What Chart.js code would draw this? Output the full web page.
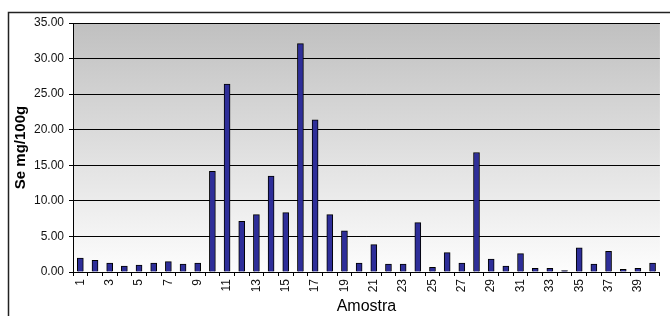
<!DOCTYPE html>
<html>
<head>
<meta charset="utf-8">
<script src="https://cdn.jsdelivr.net/npm/chart.js@4/dist/chart.umd.min.js"></script>
<style>
  body { margin: 0; background: #fff; }
  #wrap { width: 670px; height: 316px; position: relative; }
</style>
</head>
<body>
<div id="wrap"><canvas id="chartSe"></canvas></div>
<script>
const amostras = Array.from({ length: 40 }, (_, i) => String(i + 1));
const seValues = [1.97, 1.64, 1.27, 0.84, 0.98, 1.27, 1.45, 1.12, 1.27, 14.16,
                  26.4, 7.13, 8.06, 13.5, 8.35, 32.1, 21.4, 8.06, 5.8, 1.27,
                  3.84, 1.12, 1.12, 6.94, 0.66, 2.72, 1.27, 16.8, 1.83, 0.84,
                  2.58, 0.52, 0.52, 0.19, 3.38, 1.12, 2.91, 0.37, 0.52, 1.27];
const yTicks = [0, 5, 10, 15, 20, 25, 30, 35];

// fondo degradado del area + marco exterior
const bgPlugin = {
    id: 'bgPlugin',
    beforeDraw(chart) {
        const { ctx, chartArea: a } = chart;
        const g = ctx.createLinearGradient(0, a.top, 0, a.bottom);
        g.addColorStop(0, '#c0c0c0');
        g.addColorStop(1, '#fdfdfd');
        ctx.save();
        ctx.fillStyle = g;
        ctx.fillRect(a.left, a.top, a.right - a.left, a.bottom - a.top);
        ctx.strokeStyle = '#222';
        ctx.lineWidth = 1.5;
        ctx.strokeRect(8.5, 12.5, 700, 400);
        ctx.restore();
    },
    afterDatasetsDraw(chart) {
        const { ctx, chartArea: a } = chart;
        ctx.save();
        ctx.strokeStyle = '#000';
        ctx.lineWidth = 1;
        ctx.beginPath();
        ctx.moveTo(a.left, a.top + 0.5);
        ctx.lineTo(a.right, a.top + 0.5);
        ctx.stroke();
        ctx.restore();
    }
};

new Chart(document.getElementById('chartSe'), {
    type: 'bar',
    data: {
        labels: amostras,
        datasets: [{
            label: 'Se mg/100g',
            data: seValues,
            backgroundColor: '#2e2e99',
            borderColor: '#000',
            borderWidth: 1,
            barThickness: 6
        }]
    },
    options: {
        responsive: true, maintainAspectRatio: false, animation: false,
        layout: { padding: { top: 23, right: 2, bottom: 0, left: 0 } },
        plugins: { legend: { display: false }, tooltip: { enabled: false } },
        scales: {
            x: {
                offset: true,
                afterFit: s => { s.height = 44; },
                grid: { offset: true, drawOnChartArea: false, drawTicks: true, tickLength: 4, color: '#000' },
                border: { color: '#000' },
                ticks: {
                    autoSkip: false, minRotation: 90, maxRotation: 90, padding: 3,
                    color: '#111', font: { family: 'Liberation Sans', size: 12 },
                    callback: (v, i) => i % 2 === 0 ? amostras[i] : ''
                },
                title: {
                    display: true, text: 'Amostra', color: '#000',
                    font: { family: 'Liberation Sans', size: 16 }, padding: { top: 0, bottom: 0 }
                }
            },
            y: {
                min: 0, max: 35,
                afterFit: s => { s.width = 73; },
                afterBuildTicks: s => { s.ticks = yTicks.map(v => ({ value: v })); },
                grid: { color: '#000', tickLength: 4, drawTicks: true },
                border: { color: '#000' },
                ticks: {
                    padding: 5, color: '#111',
                    font: { family: 'Liberation Sans', size: 12 },
                    callback: v => v.toFixed(2)
                },
                title: {
                    display: true, text: 'Se mg/100g', color: '#000',
                    font: { family: 'Liberation Sans', size: 15, weight: 'bold' },
                    padding: { top: 12, bottom: 0 }
                }
            }
        }
    },
    plugins: [bgPlugin]
});
</script>
</body>
</html>
